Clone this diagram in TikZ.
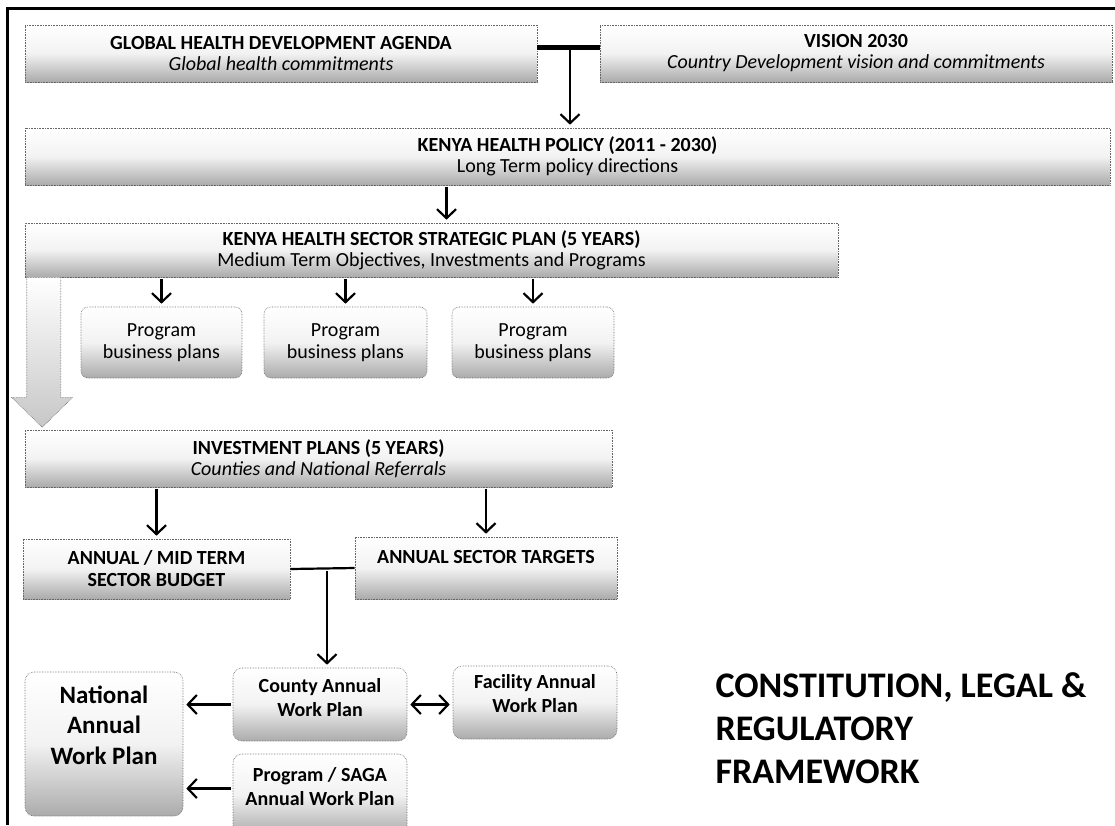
\documentclass[tikz,border=0pt]{standalone}
\usepackage{fontspec}
\setmainfont{Carlito}
\usetikzlibrary{arrows.meta, calc}

\tikzset{
    hbox/.style={draw=black!60, densely dotted, line width=0.6pt, top color=white, bottom color=black!33, middle color=black!5, inner sep=0pt, align=center, font=\fontsize{20}{21}\selectfont},
    planbox/.style={hbox, rounded corners=7pt, minimum height=71pt, font=\fontsize{20}{22}\selectfont},
    workbox/.style={hbox, rounded corners=9pt, font=\bfseries\fontsize{20}{24}\selectfont},
    barb/.tip={Straight Barb[length=9pt, width=19pt, line width=2.2pt]},
    arr/.style={line width=2.2pt, -barb, shorten <=2pt, shorten >=3pt},
    arrboth/.style={line width=2.2pt, barb-barb, shorten <=3pt, shorten >=3pt},
    tbar/.style={line width=2.2pt}
}

\begin{document}
\begin{tikzpicture}[x=1pt, y=-1pt]
    \useasboundingbox (0,0) rectangle (1115,825);

    % page frame
    \draw[line width=3pt] (7,825) -- (7,8) -- (1115,8);

    % top level
    \node[hbox, minimum width=512pt, minimum height=57pt] (global) at (281,53.5)
        {\textbf{GLOBAL HEALTH DEVELOPMENT AGENDA}\\\textit{Global health commitments}};
    \node[hbox, minimum width=512pt, minimum height=57pt] (vision) at (856,53.5)
        {\textbf{VISION 2030}\\\textit{Country Development vision and commitments}};
    \node[hbox, minimum width=1085pt, minimum height=57pt] (policy) at (567.5,156.5)
        {\textbf{KENYA HEALTH POLICY (2011 - 2030)}\\Long Term policy directions};
    \node[hbox, minimum width=813pt, minimum height=54pt] (khssp) at (431.5,250)
        {\textbf{KENYA HEALTH SECTOR STRATEGIC PLAN (5 YEARS)}\\Medium Term Objectives, Investments and Programs};

    \coordinate (tjoin) at (570,47);
    \draw[line width=5pt] ([yshift=6.5pt]global.east) -- ([yshift=6.5pt]vision.west);
    \draw[arr, shorten <=0pt] (tjoin) -- (tjoin |- policy.north);
    \draw[arr] ([xshift=15pt]khssp.north |- policy.south) -- ([xshift=15pt]khssp.north);

    % business plans
    \foreach \i/\x/\w in {1/161.5/161, 2/345.5/163, 3/533/162}
    {
        \node[planbox, minimum width=\w pt] (bplan-\i) at (\x,342.5) {Program\\business plans};
        \draw[arr] (bplan-\i.north |- khssp.south) -- (bplan-\i.north);
    }

    % broad arrow down to the investment plans
    \draw[black!60, densely dotted, line width=0.6pt, top color=white, bottom color=black!22]
        ($(khssp.south west)+(2,0)$) -- ++(34,0) -- ++(0,120) -- ++(12,0)
        -- ++(-30.5,30) -- ++(-30.5,-30) -- ++(15,0) -- cycle;

    \node[hbox, minimum width=587pt, minimum height=57pt] (invest) at (318.5,458.5)
        {\textbf{INVESTMENT PLANS (5 YEARS)}\\\textit{Counties and National Referrals}};

    \node[workbox, rounded corners=0pt, minimum width=267pt, minimum height=60pt, font=\bfseries\fontsize{20}{22}\selectfont] (budget) at (156.5,569)
        {ANNUAL / MID TERM\\SECTOR BUDGET};
    \node[workbox, rounded corners=0pt, minimum width=262pt, minimum height=62pt, text depth=22pt] (targets) at (486,568)
        {ANNUAL SECTOR TARGETS};
    \draw[arr] (budget.north |- invest.south) -- (budget.north);
    \draw[arr] (targets.north |- invest.south) -- (targets.north);

    % work plans
    \node[workbox, minimum width=174pt, minimum height=73pt, text depth=15pt] (county) at (320,704.5)
        {County Annual\\Work Plan};
    \node[workbox, minimum width=164pt, minimum height=73pt, text depth=19pt] (facility) at (535,702.5)
        {Facility Annual\\Work Plan};
    \node[workbox, minimum width=158pt, minimum height=144pt, text depth=38pt, font=\bfseries\fontsize{25}{30.5}\selectfont] (national) at (104,744)
        {National\\Annual\\Work Plan};
    \node[workbox, minimum width=174pt, minimum height=81pt, text depth=17pt] (saga) at (320,794.5)
        {Program / SAGA\\Annual Work Plan};

    \coordinate (mjoin) at (327,571);
    \draw[tbar] (budget.east) -- (targets.west);
    \draw[arr, shorten <=0pt] (mjoin) -- (mjoin |- county.north);

    \draw[arr] (county.west) -- (county.west -| national.east);
    \draw[arr] ([yshift=6pt]saga.west) -- ([yshift=6pt]saga.west -| national.east);
    \draw[arrboth] (county.east) -- (county.east -| facility.west);

    \node[anchor=west, align=left, font=\bfseries\fontsize{36}{43}\selectfont] (framework) at (712,728)
        {CONSTITUTION, LEGAL \&\\REGULATORY\\FRAMEWORK};
\end{tikzpicture}
\end{document}
